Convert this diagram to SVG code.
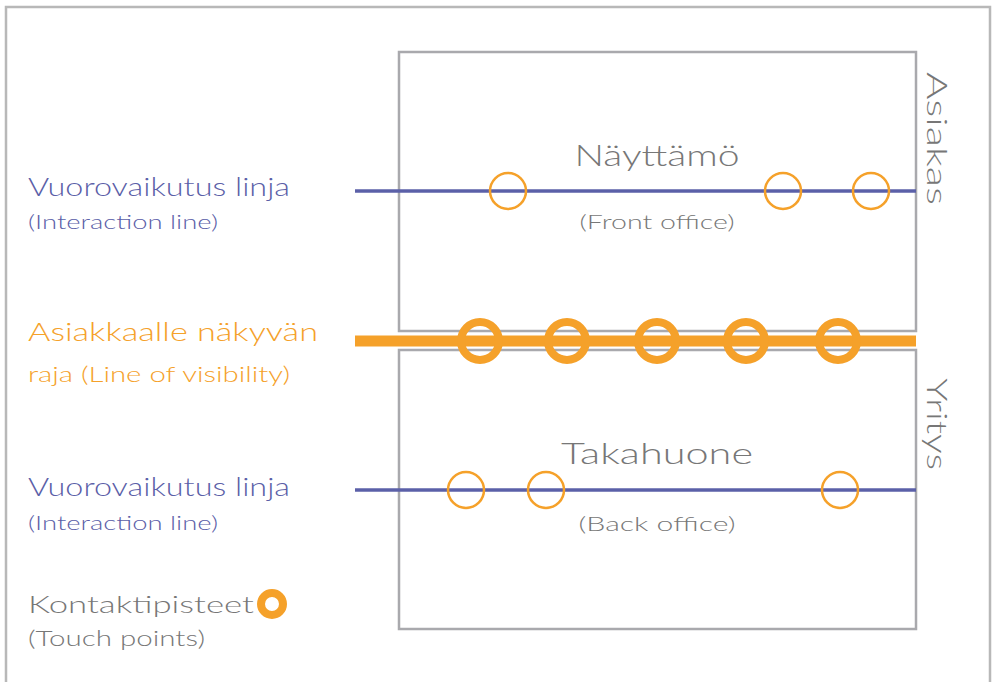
<svg xmlns="http://www.w3.org/2000/svg" width="994" height="682" viewBox="0 0 994 682">
  <style>
    text { font-family: Lato, "Liberation Sans", sans-serif; font-weight: 300; }
    .frame { fill: none; stroke: #b8b8b8; stroke-width: 2.5; }
    .box { fill: #ffffff; stroke: #a9a9ad; stroke-width: 2.5; }
    .iline { stroke: #5b60a8; stroke-width: 3.5; }
    .vline { stroke: #f5a12a; stroke-width: 11; }
    .tp { fill: none; stroke: #f5a12a; stroke-width: 2.5; }
    .tpb { fill: none; stroke: #f5a12a; stroke-width: 8; }
    .blue { fill: #5b60a8; }
    .orange { fill: #f5a12a; }
    .gray { fill: #777777; }
  </style>

  <rect width="994" height="682" fill="#ffffff"/>
  <path class="frame" d="M6,682 V7 H990 V682"/>

  <!-- customer side: front office -->
  <g id="front-office">
    <rect class="box" x="399" y="52" width="517" height="279"/>
    <text class="gray" x="657" y="166" font-size="30" text-anchor="middle" textLength="165" lengthAdjust="spacingAndGlyphs">Näyttämö</text>
    <text class="gray" x="657" y="229" font-size="20" text-anchor="middle" textLength="155" lengthAdjust="spacingAndGlyphs">(Front office)</text>
  </g>

  <!-- company side: back office -->
  <g id="back-office">
    <rect class="box" x="399" y="350" width="517" height="279"/>
    <text class="gray" x="657" y="464" font-size="30" text-anchor="middle" textLength="192" lengthAdjust="spacingAndGlyphs">Takahuone</text>
    <text class="gray" x="657" y="531" font-size="20" text-anchor="middle" textLength="157" lengthAdjust="spacingAndGlyphs">(Back office)</text>
  </g>

  <g id="side-labels">
    <text class="gray" font-size="27" transform="translate(927,72) rotate(90)" textLength="133" lengthAdjust="spacingAndGlyphs">Asiakas</text>
    <text class="gray" font-size="27" transform="translate(927,378) rotate(90)" textLength="92" lengthAdjust="spacingAndGlyphs">Yritys</text>
  </g>

  <!-- lines and touch points -->
  <g id="connectors">
    <line class="iline" x1="355" y1="191" x2="916" y2="191"/>
    <line class="vline" x1="355" y1="341" x2="916" y2="341"/>
    <line class="iline" x1="355" y1="490" x2="916" y2="490"/>
  </g>

  <g id="touch-points-front">
    <circle class="tp" cx="508" cy="191" r="18"/>
    <circle class="tp" cx="783" cy="191" r="18"/>
    <circle class="tp" cx="871" cy="191" r="18"/>
  </g>

  <g id="touch-points-visibility">
    <circle class="tpb" cx="480" cy="341" r="19"/>
    <circle class="tpb" cx="567" cy="341" r="19"/>
    <circle class="tpb" cx="657" cy="341" r="19"/>
    <circle class="tpb" cx="746" cy="341" r="19"/>
    <circle class="tpb" cx="838" cy="341" r="19"/>
  </g>

  <g id="touch-points-back">
    <circle class="tp" cx="466" cy="490" r="18"/>
    <circle class="tp" cx="546" cy="490" r="18"/>
    <circle class="tp" cx="840" cy="490" r="18"/>
  </g>

  <!-- legend -->
  <g id="legend-interaction-top">
    <text class="blue" x="28" y="196" font-size="25" textLength="262" lengthAdjust="spacingAndGlyphs">Vuorovaikutus linja</text>
    <text class="blue" x="28" y="229" font-size="20" textLength="190" lengthAdjust="spacingAndGlyphs">(Interaction line)</text>
  </g>
  <g id="legend-visibility">
    <text class="orange" x="28" y="341" font-size="25" textLength="290" lengthAdjust="spacingAndGlyphs">Asiakkaalle näkyvän</text>
    <text class="orange" x="28" y="382" font-size="22" textLength="262" lengthAdjust="spacingAndGlyphs">raja (Line of visibility)</text>
  </g>
  <g id="legend-interaction-bottom">
    <text class="blue" x="28" y="496" font-size="25" textLength="262" lengthAdjust="spacingAndGlyphs">Vuorovaikutus linja</text>
    <text class="blue" x="28" y="530" font-size="20" textLength="190" lengthAdjust="spacingAndGlyphs">(Interaction line)</text>
  </g>
  <g id="legend-touch-points">
    <text class="gray" x="28" y="613" font-size="24" textLength="226" lengthAdjust="spacingAndGlyphs">Kontaktipisteet</text>
    <circle class="tpb" cx="272" cy="604" r="11" stroke-width="7"/>
    <text class="gray" x="28" y="646" font-size="21" textLength="177" lengthAdjust="spacingAndGlyphs">(Touch points)</text>
  </g>
</svg>
